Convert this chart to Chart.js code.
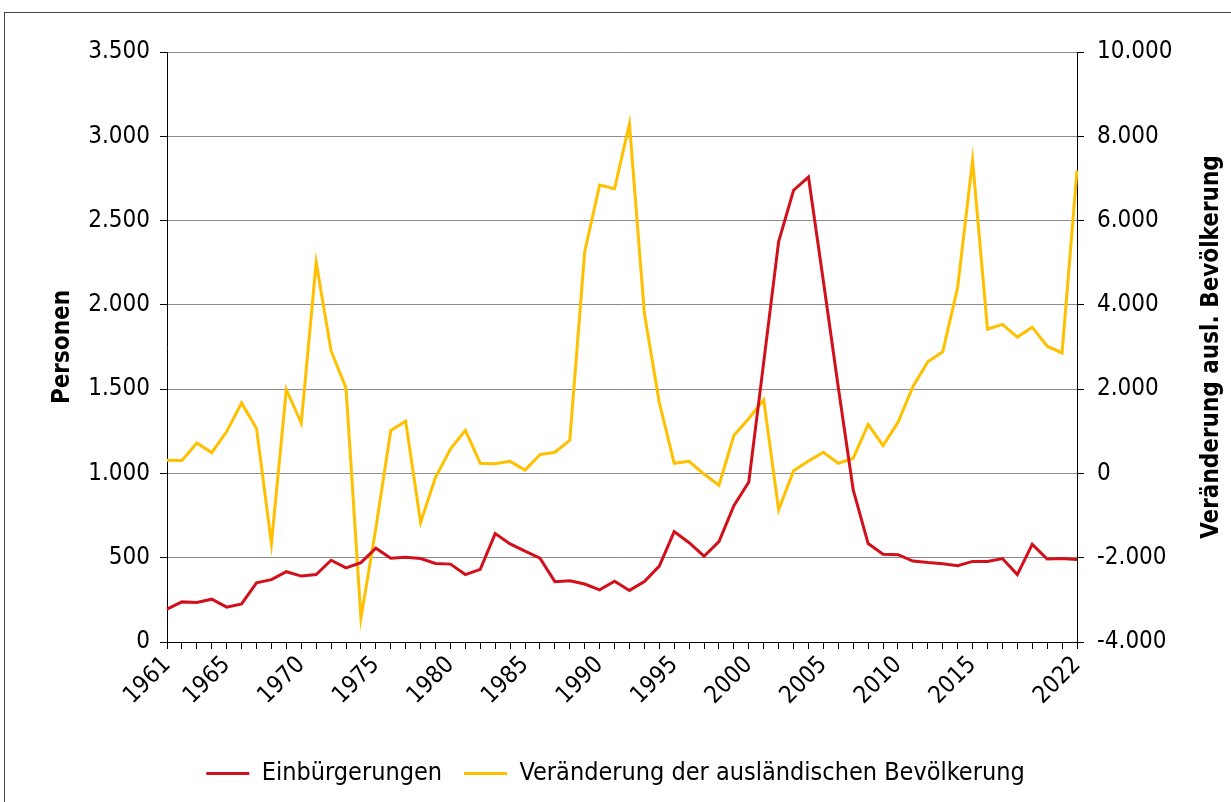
<!DOCTYPE html>
<html>
<head>
<meta charset="utf-8">
<script src="https://cdn.jsdelivr.net/npm/chart.js@4/dist/chart.umd.min.js"></script>
<style>
  html, body { margin: 0; padding: 0; background: #fff; }
  #wrap { position: absolute; left: 0; top: 0; width: 1231px; height: 802px; }
  #frame { position: absolute; left: 4px; top: 12px; width: 1240px; height: 800px; border: 1px solid #444; box-sizing: border-box; }
  canvas { position: absolute; left: 0; top: 0; }
</style>
</head>
<body>
<div id="wrap">
  <div id="frame"></div>
  <canvas id="c" width="1231" height="802"></canvas>
</div>
<script>
const years = [];
for (let y = 1961; y <= 2022; y++) years.push(String(y));

const labeledYears = ['1961','1965','1970','1975','1980','1985','1990','1995','2000','2005','2010','2015','2022'];

const einbuergerungen = [
  195, 238, 235, 254, 207, 226, 351, 370, 417, 391,
  400, 485, 440, 471, 556, 497, 502, 495, 466, 462,
  400, 431, 643, 582, 539, 497, 358, 363, 344, 309,
  360, 306, 358, 450, 655, 589, 509, 596, 808, 949,
  1660, 2375, 2680, 2758, 2140, 1510, 902, 584, 521, 518,
  480, 471, 464, 452, 478, 478, 495, 400, 579, 492,
  495, 490
];

const veraenderung = [
  315, 305, 720, 494, 993, 1672, 1069, -1664, 1992, 1191,
  5007, 2906, 2029, -3435, -1300, 1021, 1238, -1164, -90, 579,
  1021, 240, 230, 287, 79, 447, 503, 786, 5261, 6844,
  6759, 8294, 3801, 1681, 240, 287, -15, -279, 899, 1304,
  1747, -863, 61, 296, 503, 240, 362, 1163, 663, 1210,
  2058, 2651, 2887, 4413, 7428, 3424, 3537, 3235, 3471, 3019,
  2859, 7192
];

const seriesNames = ['Einbürgerungen', 'Veränderung der ausländischen Bevölkerung'];
const leftTitle = 'Personen';
const rightTitle = 'Veränderung ausl. Bevölkerung';

function fmtDE(v) {
  const neg = v < 0;
  let s = String(Math.abs(Math.round(v)));
  s = s.replace(/\B(?=(\d{3})+(?!\d))/g, '.');
  return (neg ? '-' : '') + s;
}

const FONT = 'DejaVu Sans Condensed';
const FS = 24;
const LFS = 25;

const rightTitlePlugin = {
  id: 'rightTitle',
  afterDraw(chart) {
    const ctx = chart.ctx;
    const area = chart.chartArea;
    ctx.save();
    ctx.font = 'bold ' + FS + 'px "' + FONT + '"';
    ctx.fillStyle = '#000';
    ctx.textAlign = 'center';
    ctx.textBaseline = 'middle';
    ctx.translate(1212, (area.top + area.bottom) / 2);
    ctx.rotate(-Math.PI / 2);
    ctx.fillText(rightTitle, 0, 0);
    ctx.restore();
  }
};

new Chart(document.getElementById('c'), {
  type: 'line',
  data: {
    labels: years,
    datasets: [
      {
        label: seriesNames[0],
        data: einbuergerungen,
        borderColor: '#d2101c',
        backgroundColor: '#d2101c',
        borderWidth: 3,
        pointRadius: 0,
        tension: 0,
        yAxisID: 'y'
      },
      {
        label: seriesNames[1],
        data: veraenderung,
        borderColor: '#ffc000',
        backgroundColor: '#ffc000',
        borderWidth: 3,
        pointRadius: 0,
        tension: 0,
        yAxisID: 'y2'
      }
    ]
  },
  options: {
    responsive: false,
    animation: false,
    devicePixelRatio: 1,
    layout: { padding: { top: 52, left: 0, right: 0, bottom: 6 } },
    plugins: {
      tooltip: { enabled: false },
      legend: {
        position: 'bottom',
        labels: {
          usePointStyle: true,
          pointStyle: 'line',
          pointStyleWidth: 43,
          boxHeight: LFS,
          padding: 22,
          color: '#000',
          font: { family: FONT, size: LFS }
        }
      }
    },
    scales: {
      x: {
        type: 'category',
        offset: false,
        grid: { display: true, drawOnChartArea: false, drawTicks: true, tickLength: 7, tickColor: '#000' },
        border: { display: true, color: '#000', width: 1 },
        ticks: {
          autoSkip: false,
          maxRotation: 45,
          minRotation: 45,
          padding: 2,
          color: '#000',
          font: { family: FONT, size: FS },
          callback: function (val, idx) {
            const l = years[idx];
            return labeledYears.includes(l) ? l : '';
          }
        },
        afterFit: function (s) { s.height = 97; }
      },
      y: {
        position: 'left',
        min: 0,
        max: 3500,
        grid: { color: '#8c8c8c', lineWidth: 1, tickLength: 7, tickColor: '#000' },
        border: { display: true, color: '#000', width: 1 },
        ticks: {
          stepSize: 500,
          padding: 10,
          color: '#000',
          font: { family: FONT, size: FS },
          callback: v => fmtDE(v)
        },
        title: {
          display: true,
          text: leftTitle,
          color: '#000',
          padding: { top: 48, bottom: 0 },
          font: { family: FONT, size: FS, weight: 'bold' }
        },
        afterFit: function (s) { s.width = 167; }
      },
      y2: {
        position: 'right',
        min: -4000,
        max: 10000,
        grid: { drawOnChartArea: false, tickLength: 7, tickColor: '#000' },
        border: { display: true, color: '#000', width: 1 },
        ticks: {
          stepSize: 2000,
          padding: 13,
          color: '#000',
          font: { family: FONT, size: FS },
          callback: v => fmtDE(v)
        },
        afterFit: function (s) { s.width = 154; }
      }
    }
  },
  plugins: [rightTitlePlugin]
});
</script>
</body>
</html>
